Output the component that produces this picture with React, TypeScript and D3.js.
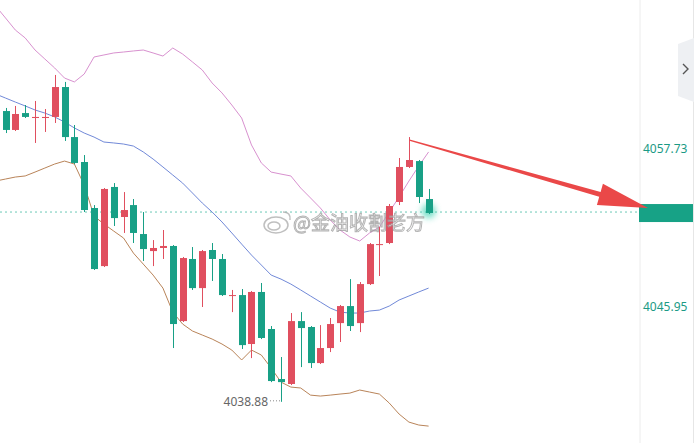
import { useEffect, useRef } from "react";
import * as d3 from "d3";

const WIDTH = 694;
const HEIGHT = 443;
const AXIS_X = 640;

const UP = "#e04f5f";
const DOWN = "#18a086";

// candles, left to right
const opens = [4060.56, 4059.15, 4060.41, 4060.04, 4060.04, 4060.12, 4062.35, 4058.62, 4056.76, 4053.33,
  4049.00, 4054.90, 4052.66, 4053.55, 4051.39, 4050.12, 4050.35, 4050.50, 4044.90, 4049.53,
  4047.36, 4050.20, 4049.53, 4046.77, 4046.84, 4043.19, 4047.07, 4044.31, 4040.58, 4040.21,
  4044.90, 4044.46, 4041.77, 4042.89, 4044.75, 4046.02, 4044.75, 4047.66, 4050.57, 4050.72,
  4053.78, 4056.39, 4056.83, 4054.00];
const highs = [4060.79, 4060.94, 4061.01, 4061.31, 4060.71, 4063.25, 4062.73, 4059.52, 4057.28, 4053.55,
  4054.82, 4055.19, 4054.52, 4054.00, 4053.03, 4050.94, 4051.69, 4050.57, 4049.68, 4050.42,
  4050.20, 4050.72, 4049.90, 4047.22, 4047.29, 4047.14, 4047.74, 4044.53, 4042.22, 4045.50,
  4045.57, 4044.53, 4044.60, 4045.13, 4046.10, 4048.03, 4047.81, 4050.72, 4051.91, 4053.63,
  4057.06, 4058.62, 4056.91, 4054.75];
const lows = [4058.92, 4059.07, 4060.04, 4058.18, 4059.00, 4059.67, 4058.33, 4056.61, 4053.03, 4048.71,
  4048.93, 4051.99, 4051.47, 4050.72, 4049.38, 4049.00, 4049.53, 4042.89, 4044.83, 4047.22,
  4045.95, 4047.89, 4046.77, 4045.57, 4042.82, 4042.14, 4043.56, 4040.35, 4038.88, 4040.13,
  4041.47, 4041.40, 4041.70, 4042.59, 4043.34, 4044.16, 4044.08, 4047.59, 4048.26, 4050.64,
  4053.55, 4056.31, 4053.70, 4052.88];
const closes = [4059.15, 4060.34, 4060.12, 4060.12, 4060.12, 4062.35, 4058.62, 4056.69, 4053.18, 4048.78,
  4054.75, 4052.58, 4053.18, 4051.47, 4050.27, 4050.35, 4050.50, 4044.68, 4049.60, 4047.36,
  4050.12, 4049.53, 4046.84, 4046.84, 4043.11, 4047.07, 4043.64, 4040.43, 4040.35, 4044.90,
  4044.38, 4041.77, 4042.89, 4044.68, 4046.02, 4044.53, 4047.66, 4050.64, 4050.64, 4053.48,
  4056.39, 4056.91, 4054.15, 4052.96];

// bollinger bands, first value is for the bar just off the left edge
const upperBand = [4068.39, 4067.50, 4066.60, 4066.01, 4065.11, 4064.44, 4063.77, 4063.02, 4062.73, 4063.32,
  4064.59, 4064.74, 4064.89, 4064.96, 4065.04, 4065.11, 4064.89, 4064.66, 4065.26, 4064.81,
  4064.22, 4063.62, 4062.65, 4061.91, 4061.01, 4060.04, 4058.03, 4056.69, 4056.01, 4055.86,
  4055.72, 4054.82, 4054.08, 4053.33, 4052.44, 4051.69, 4051.17, 4050.87, 4051.47, 4051.91,
  4053.03, 4054.15, 4055.34, 4056.46, 4057.51];
const middleBand = [4061.83, 4061.53, 4061.23, 4060.94, 4060.64, 4060.41, 4060.12, 4059.74, 4059.30, 4058.92,
  4058.62, 4058.25, 4058.18, 4058.10, 4057.95, 4057.51, 4056.98, 4056.39, 4055.79, 4055.19,
  4054.45, 4053.70, 4053.03, 4052.29, 4051.47, 4050.64, 4049.82, 4049.08, 4048.33, 4048.03,
  4047.66, 4047.22, 4046.77, 4046.32, 4045.87, 4045.57, 4045.50, 4045.50, 4045.65, 4045.72,
  4046.02, 4046.47, 4046.77, 4047.07, 4047.36];
const lowerBand = [4055.34, 4055.49, 4055.64, 4055.72, 4056.01, 4056.31, 4056.61, 4056.83, 4056.61, 4055.04,
  4052.73, 4052.14, 4051.61, 4051.09, 4049.97, 4049.15, 4048.33, 4047.36, 4045.57, 4044.68,
  4044.16, 4043.86, 4043.56, 4043.19, 4042.74, 4042.00, 4042.74, 4042.37, 4041.40, 4040.35,
  4039.98, 4039.91, 4039.38, 4039.31, 4039.38, 4039.46, 4039.53, 4039.76, 4039.61, 4039.46,
  4038.79, 4037.97, 4037.37, 4037.15, 4037.07];

const axisTicks = [4057.73, 4045.95];
const lastPrice = 4053.03;
const lowLabel = "4038.88";
const lowIndex = 28;
const arrowFrom = 41;
const arrowTo = 4053.33;
const watermark = "@金油收割老方";

export default function App() {
  const svgRef = useRef<SVGSVGElement>(null);

  useEffect(() => {
    const svg = d3.select(svgRef.current);
    svg.selectAll("*").remove();

    const x = d3.scaleLinear().domain([0, opens.length - 1]).range([5.5, 428.6]);
    const y = d3.scaleLinear().domain([4057.73, 4045.95]).range([149, 307]);

    const defs = svg.append("defs");
    defs.append("filter").attr("id", "glow")
      .attr("x", "-100%").attr("y", "-100%").attr("width", "300%").attr("height", "300%")
      .append("feGaussianBlur").attr("stdDeviation", 3);

    // right axis panel
    svg.append("line")
      .attr("x1", AXIS_X).attr("x2", AXIS_X).attr("y1", 0).attr("y2", HEIGHT)
      .attr("stroke", "#ececec");
    svg.append("line")
      .attr("x1", 693.5).attr("x2", 693.5).attr("y1", 0).attr("y2", HEIGHT)
      .attr("stroke", "#e6e6e6");

    svg.append("g")
      .selectAll("text")
      .data(axisTicks)
      .join("text")
      .attr("x", 643)
      .attr("y", (d) => y(d) + 4)
      .attr("font-size", 12)
      .attr("fill", "#1b9a85")
      .text((d) => d.toFixed(2));

    // collapse tab
    svg.append("path")
      .attr("d", "M678,44 L694,38 L694,102 L678,96 Z")
      .attr("fill", "#eef0f3");
    svg.append("path")
      .attr("d", "M683,64 L688,69 L683,74")
      .attr("fill", "none")
      .attr("stroke", "#555")
      .attr("stroke-width", 1.4);

    // last price dotted line + tag
    svg.append("line")
      .attr("x1", 0).attr("x2", AXIS_X).attr("y1", y(lastPrice)).attr("y2", y(lastPrice))
      .attr("stroke", "#6cc9b6")
      .attr("stroke-dasharray", "2,3");
    svg.append("rect")
      .attr("x", 639).attr("y", y(lastPrice) - 8).attr("width", 54).attr("height", 18)
      .attr("fill", "#17a286");

    // bands
    const line = d3.line<number>().x((_, i) => x(i - 1)).y((d) => y(d));
    const bands: [number[], string][] = [
      [upperBand, "#d891cf"],
      [middleBand, "#7189d8"],
      [lowerBand, "#b98459"],
    ];
    svg.append("g")
      .selectAll("path")
      .data(bands)
      .join("path")
      .attr("d", (d) => line(d[0]))
      .attr("fill", "none")
      .attr("stroke", (d) => d[1])
      .attr("stroke-width", 1);

    // glow on last candle
    const last = opens.length - 1;
    svg.append("circle")
      .attr("cx", x(last)).attr("cy", y(closes[last]) - 2).attr("r", 7)
      .attr("fill", "#35d0ae")
      .attr("opacity", 0.7)
      .attr("filter", "url(#glow)");

    // candles
    const candle = svg.append("g")
      .selectAll("g")
      .data(d3.range(opens.length))
      .join("g")
      .attr("fill", (i) => (closes[i] >= opens[i] ? UP : DOWN))
      .attr("stroke", (i) => (closes[i] >= opens[i] ? UP : DOWN));
    candle.append("line")
      .attr("x1", (i) => Math.round(x(i)) + 0.5)
      .attr("x2", (i) => Math.round(x(i)) + 0.5)
      .attr("y1", (i) => y(highs[i]))
      .attr("y2", (i) => y(lows[i]))
      .attr("stroke-width", 1);
    candle.append("rect")
      .attr("x", (i) => Math.round(x(i)) - 3)
      .attr("width", 7)
      .attr("y", (i) => y(Math.max(opens[i], closes[i])))
      .attr("height", (i) => Math.max(1, Math.abs(y(opens[i]) - y(closes[i]))))
      .attr("stroke", "none");

    // low marker
    const lowX = Math.round(x(lowIndex)) + 0.5;
    svg.append("line")
      .attr("x1", 270).attr("x2", lowX).attr("y1", y(lows[lowIndex]) - 1).attr("y2", y(lows[lowIndex]) - 1)
      .attr("stroke", "#888")
      .attr("stroke-dasharray", "1,2");
    svg.append("text")
      .attr("x", 268)
      .attr("y", y(lows[lowIndex]) + 4)
      .attr("text-anchor", "end")
      .attr("font-size", 12)
      .attr("fill", "#666")
      .text(lowLabel);

    // watermark
    const wm = svg.append("g").attr("opacity", 0.75);
    wm.append("ellipse").attr("cx", 276).attr("cy", 225).attr("rx", 12).attr("ry", 8)
      .attr("fill", "#fff").attr("stroke", "#aaa").attr("stroke-width", 1.5);
    wm.append("ellipse").attr("cx", 274).attr("cy", 226).attr("rx", 6).attr("ry", 4)
      .attr("fill", "none").attr("stroke", "#aaa").attr("stroke-width", 1.5);
    wm.append("path").attr("d", "M283,212 Q291,212 290,220")
      .attr("fill", "none").attr("stroke", "#aaa").attr("stroke-width", 1.5);
    wm.append("text")
      .attr("x", 293).attr("y", 230)
      .attr("font-size", 19)
      .attr("font-family", "'Noto Sans CJK SC', sans-serif")
      .attr("fill", "#fff")
      .attr("stroke", "#9a9a9a")
      .attr("stroke-width", 1)
      .text(watermark);

    // arrow from the top wick to the price axis
    const x0 = Math.round(x(arrowFrom)) + 0.5;
    const y0 = y(highs[arrowFrom]) + 3;
    const x1 = 648;
    const y1 = y(arrowTo);
    const len = Math.hypot(x1 - x0, y1 - y0);
    const ux = (x1 - x0) / len;
    const uy = (y1 - y0) / len;
    const nx = -uy;
    const ny = ux;
    const head = 50;
    const bx = x1 - ux * head;
    const by = y1 - uy * head;
    const pts: [number, number][] = [
      [x0 + nx * 0.7, y0 + ny * 0.7],
      [bx + nx * 2.5, by + ny * 2.5],
      [bx + nx * 11, by + ny * 11],
      [x1, y1],
      [bx - nx * 11, by - ny * 11],
      [bx - nx * 2.5, by - ny * 2.5],
      [x0 - nx * 0.7, y0 - ny * 0.7],
    ];
    svg.append("path")
      .attr("d", "M" + pts.map((p) => p.join(",")).join("L") + "Z")
      .attr("fill", "#ea4848");
  }, []);

  return (
    <svg
      ref={svgRef}
      width={WIDTH}
      height={HEIGHT}
      style={{ position: "fixed", top: 0, left: 0, background: "#fff", fontFamily: "'Noto Sans', sans-serif" }}
    />
  );
}
